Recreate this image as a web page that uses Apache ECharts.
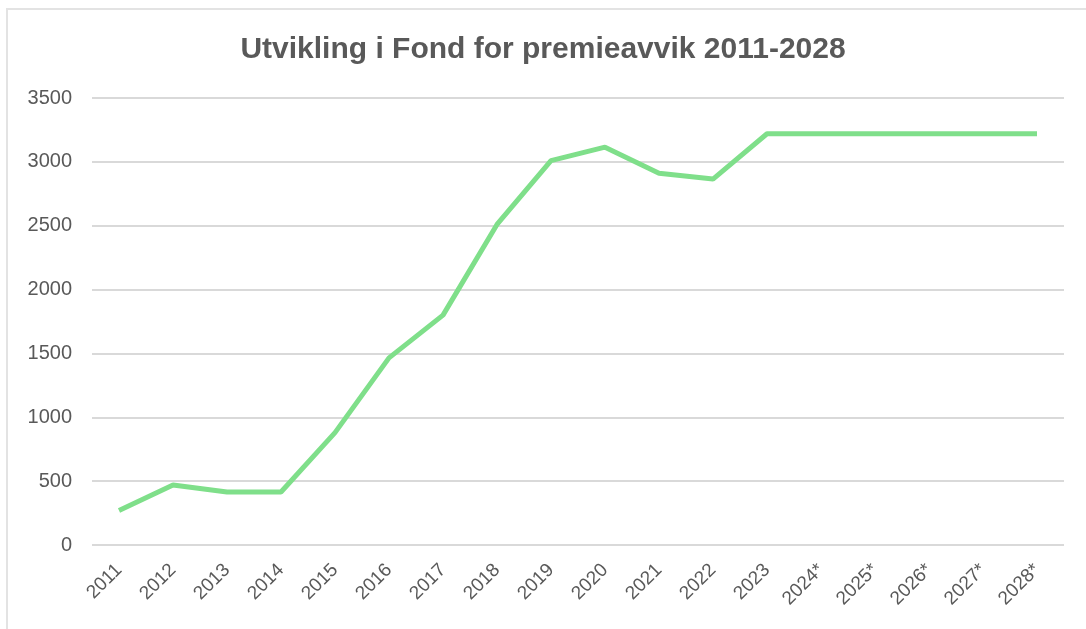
<!DOCTYPE html>
<html>
<head>
<meta charset="utf-8">
<script src="https://cdn.jsdelivr.net/npm/echarts@6/dist/echarts.min.js"></script>
<style>
  html,body{margin:0;padding:0;background:#fff;}
  #frame{position:absolute;left:6px;top:8px;width:1100px;height:640px;border:2px solid #e3e3e3;box-sizing:border-box;}
  #chart{position:absolute;left:0;top:0;width:1086px;height:629px;}
</style>
</head>
<body>
<div id="frame"></div>
<div id="chart"></div>
<script>
const years=['2011','2012','2013','2014','2015','2016','2017','2018','2019','2020','2021','2022','2023','2024*','2025*','2026*','2027*','2028*']
const fond=[270,470,415,415,880,1465,1800,2510,3010,3115,2910,2865,3220,3220,3220,3220,3220,3220]
const yTicks=[0,500,1000,1500,2000,2500,3000,3500]

const myChart=echarts.init(document.querySelector('#chart'))
const option={
  title:{
    text:'Utvikling i Fond for premieavvik 2011-2028',
    left:'center',
    top:30,
    textStyle:{fontSize:30,fontWeight:'bold',color:'#595959',fontFamily:'Liberation Sans'}
  },
  grid:{left:92,right:22,top:98,bottom:84},
  xAxis:{
    type:'category',
    data:years,
    boundaryGap:true,
    axisLine:{show:false},
    axisTick:{show:false},
    axisLabel:{rotate:45,color:'#595959',fontSize:19,fontFamily:'Liberation Sans',margin:22,interval:0}
  },
  yAxis:{
    type:'value',
    min:yTicks[0],
    max:yTicks[yTicks.length-1],
    interval:500,
    axisLabel:{color:'#595959',fontSize:20,fontFamily:'Liberation Sans',margin:20,formatter:v=>String(v)},
    splitLine:{lineStyle:{color:'#d9d9d9',width:2}}
  },
  series:[{
    type:'line',
    data:fond,
    symbol:'none',
    lineStyle:{color:'#7fdf8a',width:5},
    animation:false
  }]
}
myChart.setOption(option)
</script>
</body>
</html>
